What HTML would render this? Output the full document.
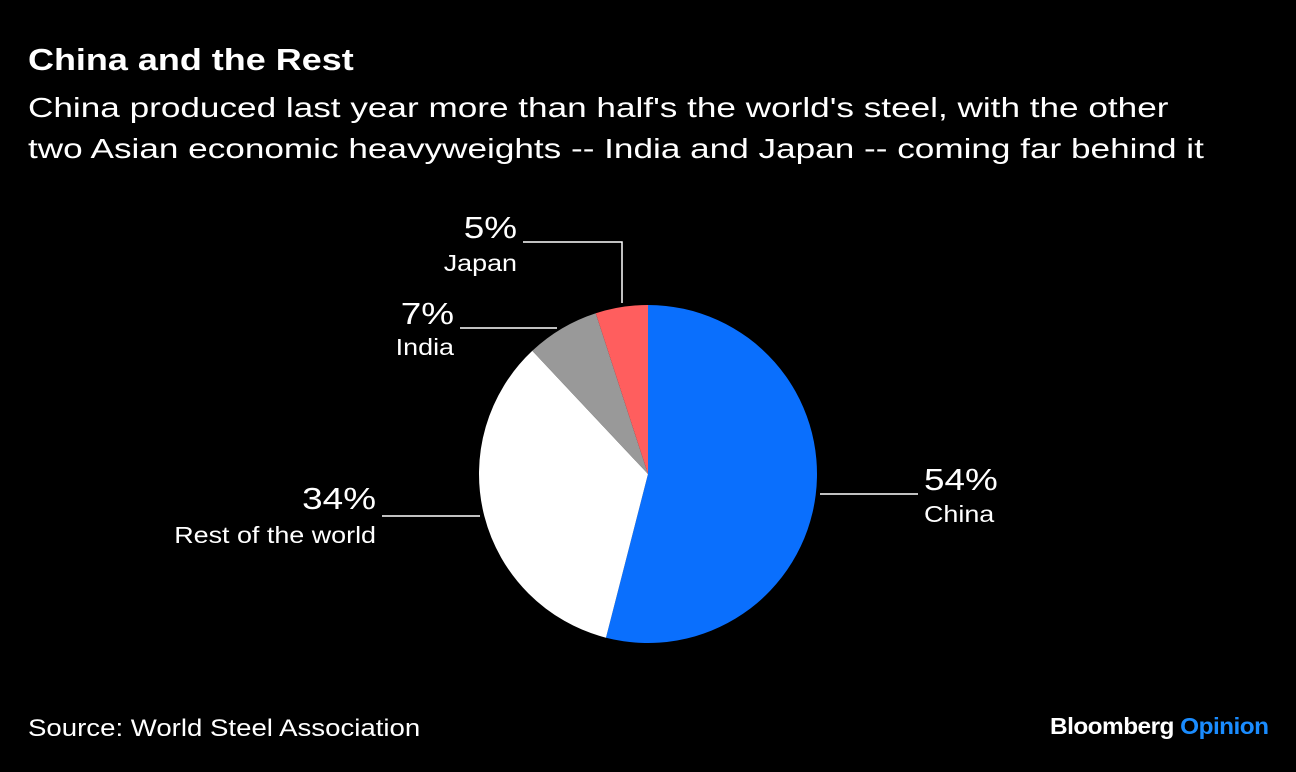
<!DOCTYPE html>
<html><head><meta charset="utf-8">
<style>
html,body{margin:0;padding:0;background:#000;}
body{width:1296px;height:772px;position:relative;overflow:hidden;font-family:"Liberation Sans",Arial,sans-serif;color:#fff;}
.t{position:absolute;white-space:nowrap;transform-origin:0 0;}
</style></head><body>
<div class="t" style="left:28px;top:42px;font-size:31px;font-weight:bold;transform:scaleX(1.16);">China and the Rest</div>
<div class="t" style="left:28px;top:87px;font-size:28px;line-height:41px;transform:scaleX(1.255);">China produced last year more than half's the world's steel, with the other<br>two Asian economic heavyweights -- India and Japan -- coming far behind it</div>
<svg id="chart" width="1296" height="772" style="position:absolute;left:0;top:0;" font-family="Liberation Sans, Arial, sans-serif"></svg>
<div class="t" style="left:28px;top:715px;font-size:24px;transform:scaleX(1.15);">Source: World Steel Association</div>
<div class="t" style="left:1050px;top:713px;font-size:23px;font-weight:bold;letter-spacing:-0.5px;transform:scaleX(1.06);">Bloomberg <span style="color:#1a8cff">Opinion</span></div>
<script>
const categories=["China","Rest of the world","India","Japan"];
const values=[54,34,7,5];
const colors=["#0a6ffd","#ffffff","#999999","#ff5e5e"];
const svg=document.getElementById('chart');
const NS="http://www.w3.org/2000/svg";
const cx=648,cy=474,r=169;
const total=values.reduce((a,b)=>a+b,0);
function pt(a){return [cx+r*Math.sin(a),cy-r*Math.cos(a)];}
let acc=0;
values.forEach((v,i)=>{
  const a0=acc/total*2*Math.PI; acc+=v; const a1=acc/total*2*Math.PI;
  const p0=pt(a0),p1=pt(a1);
  const p=document.createElementNS(NS,'path');
  p.setAttribute('d',`M${cx},${cy}L${p0[0]},${p0[1]}A${r},${r} 0 ${a1-a0>Math.PI?1:0} 1 ${p1[0]},${p1[1]}Z`);
  p.setAttribute('fill',colors[i]);
  
  
  svg.appendChild(p);
});
const layout=[
  ["M820,494H918",924,490,522,"start"],
  ["M382,516H480",376,509,543,"end"],
  ["M460,328H557",454,324,355,"end"],
  ["M523,242H622V303",517,238,271,"end"]
];
values.forEach((v,i)=>{
  const L=layout[i];
  const l=document.createElementNS(NS,'path');
  l.setAttribute('d',L[0]);l.setAttribute('stroke','#fff');l.setAttribute('stroke-width','1.5');l.setAttribute('fill','none');
  
  
  svg.appendChild(l);
  const t1=document.createElementNS(NS,'text');
  t1.setAttribute('transform',`translate(${L[1]},${L[2]}) scale(1.19,1)`);
  t1.setAttribute('text-anchor',L[4]);
  t1.setAttribute('fill','#fff');t1.setAttribute('font-size','31');
  t1.textContent=v+'%';
  
  
  svg.appendChild(t1);
  const t2=document.createElementNS(NS,'text');
  t2.setAttribute('transform',`translate(${L[1]},${L[3]}) scale(1.17,1)`);
  t2.setAttribute('text-anchor',L[4]);
  t2.setAttribute('fill','#fff');t2.setAttribute('font-size','23');
  t2.textContent=categories[i];
  
  
  svg.appendChild(t2);
});
</script>
</body></html>
